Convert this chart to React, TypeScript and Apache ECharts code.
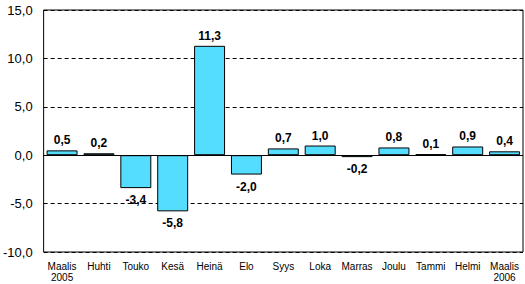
import React, { useEffect, useRef } from "react";
import * as echarts from "echarts";

const categories = ["Maalis\n2005", "Huhti", "Touko", "Kesä", "Heinä", "Elo", "Syys", "Loka", "Marras", "Joulu", "Tammi", "Helmi", "Maalis\n2006"];
const values = [0.5, 0.2, -3.4, -5.8, 11.3, -2.0, 0.7, 1.0, -0.2, 0.8, 0.1, 0.9, 0.4];
const yMin = -10;
const yMax = 15;
const yInterval = 5;

const fmt = (v: number) => v.toFixed(1).replace(".", ",");
const FONT = "Arial, 'Liberation Sans', sans-serif";

export default function App() {
  const ref = useRef<HTMLDivElement>(null);
  useEffect(() => {
    if (!ref.current) return;
    const chart = echarts.init(ref.current, undefined, { renderer: "svg" });
    chart.setOption({
      animation: false,
      backgroundColor: "#fff",
      grid: { left: 43, right: 2, top: 10, bottom: 32, show: true, borderColor: "#000", borderWidth: 1, backgroundColor: "transparent" },
      xAxis: {
        type: "category",
        data: categories,
        axisLine: { show: false, onZero: false },
        axisTick: { show: false },
        axisLabel: { color: "#000", fontFamily: FONT, fontSize: 10, margin: 9, lineHeight: 11, interval: 0 },
      },
      yAxis: {
        type: "value",
        min: yMin,
        max: yMax,
        interval: yInterval,
        axisLine: { show: false },
        axisTick: { show: false },
        axisLabel: { color: "#000", fontFamily: FONT, fontSize: 13, margin: 11, formatter: (v: number) => fmt(v) },
        splitLine: { show: true, lineStyle: { color: "#000", type: [4, 3], width: 1 } },
      },
      series: [
        {
          type: "bar",
          barCategoryGap: "16%",
          data: values.map((v) => ({
            value: v,
            label: { position: v < 0 ? "bottom" : "top", distance: v < 0 ? 6 : 4 },
          })),
          itemStyle: { color: "#55DDFF", borderColor: "#000", borderWidth: 1 },
          label: {
            show: true,
            color: "#000",
            fontFamily: FONT,
            fontSize: 12,
            fontWeight: "bold",
            formatter: (p: any) => fmt(p.value),
          },
          markLine: {
            silent: true,
            symbol: "none",
            label: { show: false },
            lineStyle: { color: "#000", type: "solid", width: 1 },
            data: [{ yAxis: 0 }],
          },
        },
      ],
    });
    return () => chart.dispose();
  }, []);
  return <div ref={ref} style={{ width: 525, height: 284, position: "absolute", left: 0, top: 0 }} />;
}
